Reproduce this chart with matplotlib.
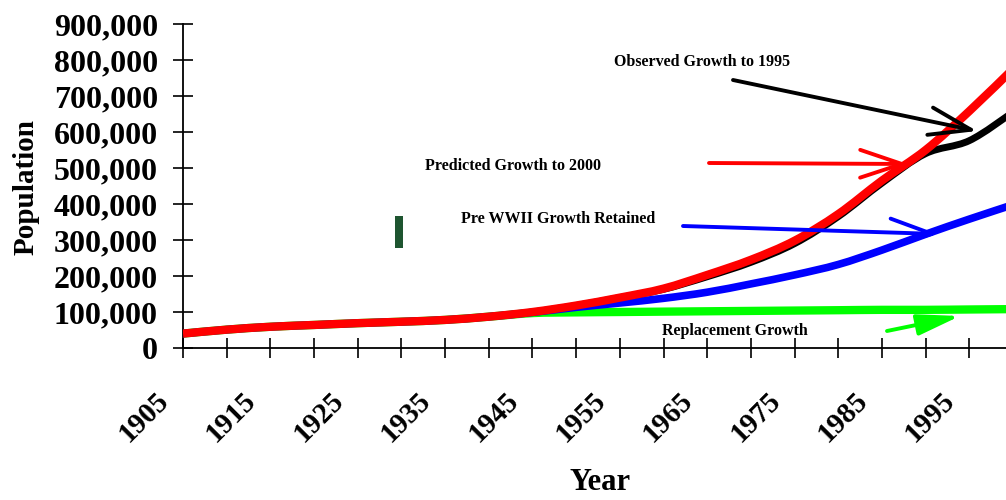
import matplotlib
matplotlib.use("Agg")
import numpy as np
import matplotlib.pyplot as plt
from matplotlib.patches import Rectangle, FancyArrowPatch, PathPatch
from matplotlib.path import Path
from matplotlib.ticker import FuncFormatter
from matplotlib.transforms import ScaledTranslation

years = [1905, 1910, 1915, 1920, 1925, 1930, 1935, 1940, 1945, 1950,
         1955, 1960, 1965, 1970, 1975, 1980, 1985, 1990, 1995, 2000]

predicted = [40000, 51000, 59000, 64000, 69000, 73000, 78000, 87000, 100000, 118000,
             140000, 165000, 203000, 245000, 298000, 372000, 465000, 550000, 658000, 775000]
observed = [40000, 51000, 59000, 64000, 69000, 73000, 78000, 87000, 100000, 118000,
            140000, 163000, 198000, 238000, 290000, 365000, 458000, 540000, 576000, 655000]
pre_wwii = [40000, 51000, 59000, 64000, 69000, 73000, 78000, 87000, 99000, 113000,
            125000, 138000, 155000, 178000, 203000, 232000, 272000, 316000, 358000, 398000]
replacement = [40000, 51000, 59000, 64000, 69000, 73000, 78000, 87000, 97000, 99000,
               100000, 101000, 102000, 103000, 104000, 105000, 106000, 106000, 107000, 108000]

year_ticks = list(range(1905, 2000, 5))
label_years = list(range(1905, 2000, 10))
pop_ticks = list(range(0, 900001, 100000))

W, H = 1006, 500
SERIF = "Liberation Serif"


def px(x, y):
    # pixel position -> figure fraction
    return (x / W, 1 - y / H)


def smooth_line(ax, xs, ys, **kw):
    # excel-style smoothed line: catmull-rom segments as cubic beziers
    p = np.column_stack([xs, ys]).astype(float)
    p = np.vstack([p[0], p, p[-1]])
    verts = [p[1]]
    codes = [Path.MOVETO]
    for i in range(1, len(p) - 2):
        c1 = p[i] + (p[i + 1] - p[i - 1]) / 6
        c2 = p[i + 1] - (p[i + 2] - p[i]) / 6
        verts += [c1, c2, p[i + 1]]
        codes += [Path.CURVE4] * 3
    ax.add_patch(PathPatch(Path(verts, codes), fill=False, capstyle="butt",
                           joinstyle="round", **kw))


fig = plt.figure(figsize=(W / 100, H / 100), dpi=100)
ax = fig.add_axes([183 / W, 1 - 348 / H, 1 - 183 / W, (348 - 24) / H])

smooth_line(ax, years, replacement, edgecolor="#00ff00", lw=6, zorder=2)
smooth_line(ax, years, pre_wwii, edgecolor="#0000ff", lw=5.5, zorder=3)
smooth_line(ax, years, observed, edgecolor="black", lw=5, zorder=4)
smooth_line(ax, years, predicted, edgecolor="#ff0000", lw=6, zorder=5)

ax.set_xlim(1905, 1999.2)
ax.set_ylim(0, 900000)
ax.spines["top"].set_visible(False)
ax.spines["right"].set_visible(False)
for s in ("left", "bottom"):
    ax.spines[s].set_linewidth(1.3)

ax.set_xticks(year_ticks)
ax.set_xticklabels([])
# rotated year labels sit left of their ticks, as in the original
shift = ScaledTranslation(-39 / 100, -69 / 100, fig.dpi_scale_trans)
for y in label_years:
    ax.text(y, 0, str(y), transform=ax.get_xaxis_transform() + shift,
            rotation=45, ha="center", va="center", clip_on=False,
            fontfamily=SERIF, fontweight="bold", fontsize=21)

ax.set_yticks(pop_ticks)
ax.yaxis.set_major_formatter(FuncFormatter(lambda v, p: f"{int(v):,}"))
for lab in ax.get_yticklabels():
    lab.set_fontfamily(SERIF)
    lab.set_fontweight("bold")
    lab.set_fontsize(23)
ax.tick_params(axis="x", direction="inout", length=14, width=1.2)
ax.tick_params(axis="y", direction="inout", length=14, width=1.2, pad=11)

fig.text(*px(600, 483), "Year", ha="center", va="center",
         fontfamily=SERIF, fontweight="bold", fontsize=22)
fig.text(*px(26, 187), "Population", ha="center", va="center", rotation=90,
         fontfamily=SERIF, fontweight="bold", fontsize=21)

txt = dict(ha="center", va="center", fontfamily=SERIF, fontweight="bold", fontsize=11.5)
fig.text(*px(702, 62), "Observed Growth to 1995", **txt)
fig.text(*px(513, 166), "Predicted Growth to 2000", **txt)
fig.text(*px(558, 219), "Pre WWII Growth Retained", **txt)
fig.text(*px(735, 331), "Replacement Growth", **txt)

arrows = [
    ((733, 80), (977, 131), "black", "->,head_length=1.5,head_width=0.5"),
    ((709, 163), (908, 164), "#ff0000", "->,head_length=1.5,head_width=0.5"),
    ((683, 226), (938, 234), "#0000ff", "->,head_length=1.5,head_width=0.5"),
    ((887, 331), (960, 316), "#00ff00", "-|>,head_length=1.3,head_width=0.32"),
]
for start, end, col, style in arrows:
    fig.add_artist(FancyArrowPatch(
        px(*start), px(*end), transform=fig.transFigure,
        arrowstyle=style, mutation_scale=20, color=col, lw=2.8,
        shrinkA=0, shrinkB=0, zorder=10))

fig.add_artist(Rectangle(px(395, 248), 8 / W, 32 / H, transform=fig.transFigure,
                         facecolor="#1e5530", edgecolor="none"))

fig.savefig("out.png", dpi=100)
